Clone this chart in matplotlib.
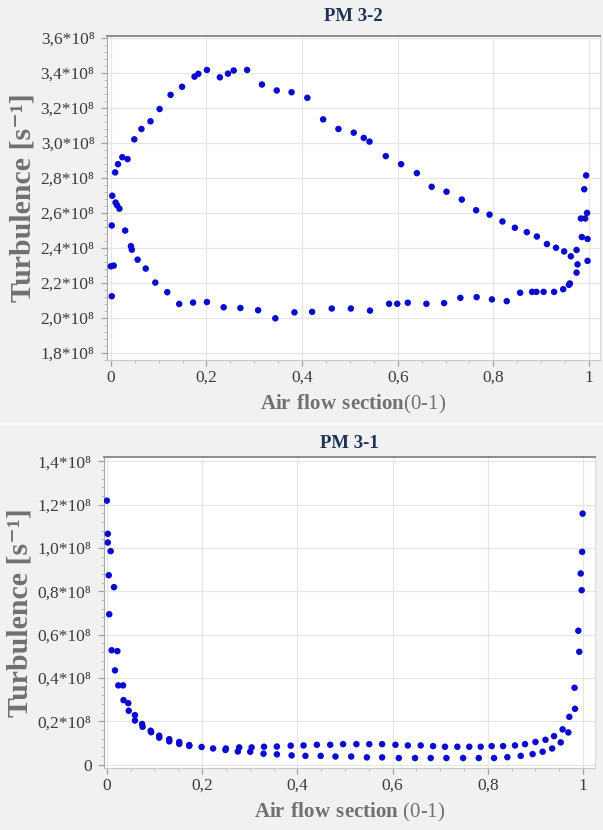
import matplotlib
matplotlib.use("Agg")
import matplotlib.pyplot as plt
from matplotlib.ticker import AutoMinorLocator
from matplotlib.lines import Line2D

# PM 3-2 (upper chart), turbulence in units of 1e8 s^-1
pm32_x = [0.003, 0.010, 0.013, 0.018, 0.009, 0.015, 0.024, 0.035, 0.049, 0.064,
          0.083, 0.102, 0.125, 0.149, 0.175, 0.183, 0.201, 0.228, 0.245, 0.257,
          0.285, 0.316, 0.347, 0.378, 0.411, 0.444, 0.476, 0.508, 0.529, 0.541,
          0.575, 0.607, 0.640, 0.671, 0.702, 0.734, 0.764, 0.792, 0.819, 0.845,
          0.870, 0.891, 0.912, 0.931, 0.948, 0.962,
          0.974, 0.976, 0.974, 0.994, 0.990, 0.983, 0.992, 0.996, 0.985, 0.997, 0.997,
          0.960, 0.958, 0.946, 0.927, 0.905, 0.890, 0.881, 0.856, 0.828, 0.797,
          0.765, 0.731, 0.697, 0.660, 0.621, 0.599, 0.582, 0.542, 0.502, 0.462,
          0.421, 0.384, 0.344, 0.308, 0.271, 0.236, 0.201, 0.172, 0.143, 0.118,
          0.093, 0.073, 0.056, 0.044, 0.042, 0.030,
          0.002, 0.000, 0.006, 0.002]
pm32_y = [2.698, 2.659, 2.644, 2.624, 2.831, 2.878, 2.918, 2.907, 3.020, 3.079,
          3.123, 3.193, 3.274, 3.320, 3.378, 3.394, 3.416, 3.374, 3.395, 3.413,
          3.416, 3.333, 3.299, 3.289, 3.257, 3.134, 3.079, 3.058, 3.028, 3.007,
          2.924, 2.878, 2.827, 2.749, 2.721, 2.676, 2.615, 2.590, 2.551, 2.515,
          2.490, 2.465, 2.422, 2.401, 2.380, 2.352,
          2.388, 2.306, 2.259, 2.814, 2.735, 2.568, 2.568, 2.600, 2.462, 2.451, 2.326,
          2.197, 2.189, 2.164, 2.149, 2.149, 2.149, 2.149, 2.144, 2.096, 2.106,
          2.119, 2.115, 2.085, 2.081, 2.087, 2.081, 2.081, 2.042, 2.054, 2.054,
          2.035, 2.032, 1.998, 2.044, 2.057, 2.061, 2.091, 2.088, 2.080, 2.147,
          2.202, 2.282, 2.333, 2.390, 2.410, 2.499,
          2.124, 2.295, 2.299, 2.528]

# PM 3-1 (lower chart), turbulence in units of 1e8 s^-1
pm31_x = [0.000, 0.002, 0.002, 0.008, 0.004, 0.015, 0.005, 0.010, 0.022, 0.017,
          0.024, 0.034, 0.035, 0.045, 0.046, 0.059, 0.059, 0.074, 0.075, 0.092,
          0.093, 0.110, 0.110, 0.131, 0.131, 0.152, 0.152, 0.173, 0.173, 0.199,
          0.223, 0.250, 0.249, 0.278, 0.275, 0.304, 0.301, 0.330, 0.329, 0.357,
          0.357, 0.386, 0.388, 0.413, 0.417, 0.441, 0.449, 0.469, 0.480, 0.496,
          0.524, 0.551, 0.578, 0.606, 0.632, 0.659, 0.685, 0.710, 0.736, 0.761,
          0.785, 0.808, 0.832, 0.857, 0.878, 0.900, 0.921, 0.939, 0.957, 0.971,
          0.983, 0.982, 0.992, 0.990, 0.997, 0.995, 0.998, 0.999,
          0.513, 0.546, 0.578, 0.613, 0.647, 0.680, 0.713, 0.748, 0.781, 0.813,
          0.841, 0.869, 0.894, 0.915, 0.935, 0.953, 0.969]
pm31_y = [1.218, 1.065, 1.025, 0.985, 0.874, 0.819, 0.694, 0.528, 0.524, 0.435,
          0.366, 0.366, 0.298, 0.284, 0.249, 0.229, 0.204, 0.188, 0.175, 0.157,
          0.150, 0.134, 0.125, 0.118, 0.108, 0.105, 0.096, 0.091, 0.087, 0.082,
          0.075, 0.075, 0.068, 0.080, 0.061, 0.080, 0.060, 0.083, 0.051, 0.084,
          0.048, 0.088, 0.043, 0.089, 0.041, 0.092, 0.041, 0.092, 0.038, 0.095,
          0.095, 0.095, 0.095, 0.092, 0.089, 0.089, 0.086, 0.083, 0.083, 0.083,
          0.083, 0.086, 0.086, 0.089, 0.095, 0.105, 0.115, 0.132, 0.163, 0.221,
          0.258, 0.355, 0.521, 0.618, 0.805, 0.882, 0.982, 1.158,
          0.038, 0.034, 0.034, 0.031, 0.031, 0.031, 0.031, 0.031, 0.031, 0.031,
          0.035, 0.041, 0.049, 0.060, 0.075, 0.103, 0.149]

x_ticks = [0, 0.2, 0.4, 0.6, 0.8, 1]
x_labels = ["0", "0,2", "0,4", "0,6", "0,8", "1"]
pm32_yticks = [1.8, 2.0, 2.2, 2.4, 2.6, 2.8, 3.0, 3.2, 3.4, 3.6]
pm31_yticks = [0, 0.2, 0.4, 0.6, 0.8, 1.0, 1.2, 1.4]

SERIF = ["Liberation Serif", "DejaVu Serif"]
BG = "#f1f1f1"


def ylab(v):
    if v == 0:
        return "0"
    return f"{v:.1f}".replace(".", ",") + "*10\u2078"


def draw_panel(ax, x, y, title, xlim, ylim, yticks, xlabel, title_pad):
    ax.set_facecolor("white")
    ax.scatter(x, y, s=22, color="#0b0bd0", edgecolors="none", zorder=3)
    ax.set_xlim(*xlim)
    ax.set_ylim(*ylim)
    ax.set_xticks(x_ticks)
    ax.set_xticklabels(x_labels)
    ax.set_yticks(yticks)
    ax.set_yticklabels([ylab(v) for v in yticks])
    ax.xaxis.set_minor_locator(AutoMinorLocator(4))
    ax.yaxis.set_minor_locator(AutoMinorLocator(5))
    ax.grid(True, which="major", color="#e6e6e6", lw=0.9)
    ax.set_axisbelow(True)
    for lab in ax.get_xticklabels() + ax.get_yticklabels():
        lab.set_family(SERIF)
        lab.set_fontsize(12.5)
        lab.set_color("#3c3c3c")
    ax.tick_params(which="major", length=4, color="#a0a0a0", width=0.9, pad=5)
    ax.tick_params(axis="x", which="major", pad=3)
    ax.tick_params(which="minor", length=2.5, color="#b8b8b8", width=0.7)
    ax.spines["top"].set_color("#8c8c8c")
    ax.spines["top"].set_linewidth(1.4)
    ax.spines["right"].set_color("#dcdcdc")
    ax.spines["left"].set_color("#a8a8a8")
    ax.spines["bottom"].set_color("#c8c8c8")
    ax.set_title(title, family=SERIF, fontweight="bold", fontsize=13.5,
                 color="#1d3354", pad=title_pad)
    ax.set_ylabel("Turbulence [s\u207b\u00b9]", family=SERIF, fontweight="bold",
                  fontsize=21.5, color="#707070", labelpad=3)
    ax.set_xlabel(xlabel, family=SERIF, fontsize=15, color="#707070", labelpad=5)


plt.rcParams["mathtext.fontset"] = "custom"
plt.rcParams["mathtext.rm"] = "Liberation Serif"
plt.rcParams["mathtext.bf"] = "Liberation Serif:bold"

W, H = 603, 830
fig = plt.figure(figsize=(W / 100, H / 100), dpi=100, facecolor=BG)

ax1 = fig.add_axes([107 / W, 1 - 360 / H, 493 / W, 324 / H])
draw_panel(ax1, pm32_x, pm32_y, "PM 3-2", (-0.008, 1.023), (1.76, 3.61),
           pm32_yticks, r"$\mathbf{Air\ flow\ section}$(0-1)", 11)

ax2 = fig.add_axes([104 / W, 1 - 768 / H, 491 / W, 310.5 / H])
draw_panel(ax2, pm31_x, pm31_y, "PM 3-1", (-0.006, 1.025), (-0.015, 1.417),
           pm31_yticks, r"$\mathbf{Air\ flow\ section}$ (0-1)", 7)

# white separator between the two panels
fig.add_artist(Line2D([0, 1], [1 - 424 / H, 1 - 424 / H], color="white", lw=1.5))

fig.savefig("out.png", dpi=100, facecolor=BG)
